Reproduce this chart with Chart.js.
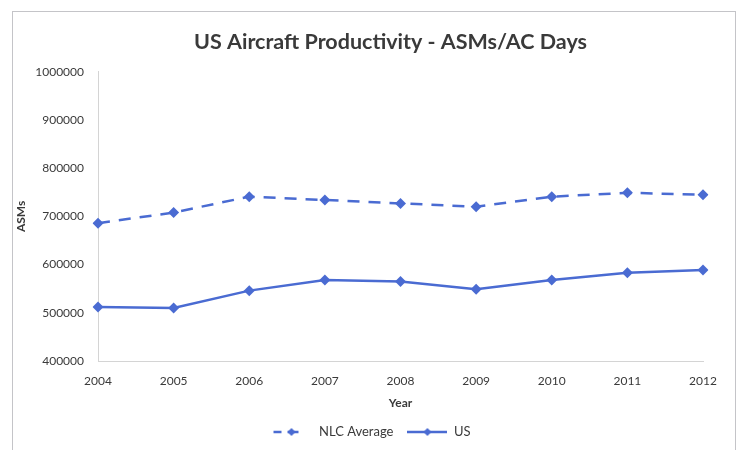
<!DOCTYPE html>
<html>
<head>
<meta charset="utf-8">
<script src="https://cdn.jsdelivr.net/npm/chart.js@4"></script>
<style>
  body { margin: 0; background: #fff; }
  canvas { display: block; }
</style>
</head>
<body>
<canvas id="grafico" width="743" height="450"></canvas>
<script>
// anos do eixo x
var anos = ['2004', '2005', '2006', '2007', '2008', '2009', '2010', '2011', '2012']

// valores (ASMs por dia de aeronave)
var nlcMedia = [686000, 708000, 741000, 734000, 727000, 720000, 741000, 749000, 745000]
var us = [512000, 510000, 546000, 568000, 565000, 549000, 568000, 583000, 589000]

var azul = '#4a6bd2'
var cinzaTexto = '#3a3a3a'

// desenha o simbolo da legenda (linha + losango)
function simboloLegenda(tracejado) {
    var c = document.createElement('canvas')
    c.width = 40
    c.height = 12
    var ctx = c.getContext('2d')
    ctx.strokeStyle = azul
    ctx.fillStyle = azul
    ctx.lineWidth = 2.5
    ctx.beginPath()
    if (tracejado) {
        ctx.moveTo(1, 6); ctx.lineTo(9, 6)
        ctx.moveTo(15, 6); ctx.lineTo(26, 6)
    } else {
        ctx.moveTo(0, 6); ctx.lineTo(40, 6)
    }
    ctx.stroke()
    var cx = tracejado ? 19 : 20
    ctx.beginPath()
    ctx.moveTo(cx, 2); ctx.lineTo(cx + 4, 6); ctx.lineTo(cx, 10); ctx.lineTo(cx - 4, 6)
    ctx.closePath()
    ctx.fill()
    return c
}

var simbolos = [simboloLegenda(true), simboloLegenda(false)]

// moldura cinza em volta do grafico
var moldura = {
    id: 'moldura',
    afterLayout: function (chart) {
        // titulo um pouco a esquerda do centro da area do grafico
        if (chart.titleBlock) chart.titleBlock.left -= 20
        // legenda centrada na largura toda
        if (chart.legend) {
            chart.legend.left += 30
            chart.legend.adjustHitBoxes()
        }
    },
    beforeDraw: function (chart) {
        var ctx = chart.ctx
        ctx.save()
        ctx.fillStyle = '#fff'
        ctx.fillRect(0, 0, chart.width, chart.height)
        ctx.strokeStyle = '#c4c4c8'
        ctx.lineWidth = 1
        ctx.strokeRect(12.5, 11.5, 723, 460)
        ctx.restore()
    }
}

var config = {
    type: 'line',
    data: {
        labels: anos,
        datasets: [
            {
                label: 'NLC Average',
                data: nlcMedia,
                borderColor: azul,
                backgroundColor: azul,
                borderWidth: 2.5,
                borderDash: [12, 9],
                pointStyle: 'rectRot',
                pointRadius: 5.5,
                pointBorderWidth: 0,
                tension: 0
            },
            {
                label: 'US',
                data: us,
                borderColor: azul,
                backgroundColor: azul,
                borderWidth: 2.5,
                pointStyle: 'rectRot',
                pointRadius: 5.5,
                pointBorderWidth: 0,
                tension: 0
            }
        ]
    },
    options: {
        responsive: false,
        animation: false,
        devicePixelRatio: 1,
        layout: { padding: { left: 10, right: 40, top: 0, bottom: 1.5 } },
        plugins: {
            title: {
                display: true,
                fullSize: false,
                text: 'US Aircraft Productivity - ASMs/AC Days',
                color: cinzaTexto,
                font: { family: 'Lato', size: 21.5, weight: 'bold' },
                padding: { top: 29, bottom: 17 }
            },
            legend: {
                position: 'bottom',
                labels: {
                    color: cinzaTexto,
                    font: { family: 'Lato', size: 13 },
                    usePointStyle: true,
                    pointStyleWidth: 40,
                    padding: 14,
                    generateLabels: function (chart) {
                        return chart.data.datasets.map(function (ds, i) {
                            return {
                                text: ds.label,
                                pointStyle: simbolos[i],
                                fontColor: cinzaTexto,
                                datasetIndex: i,
                                hidden: false,
                                lineWidth: 0
                            }
                        })
                    }
                }
            },
            tooltip: { enabled: false }
        },
        scales: {
            x: {
                grid: { display: false },
                border: { display: true, color: '#d4d4d4', width: 1 },
                ticks: {
                    color: cinzaTexto,
                    font: { family: 'Lato', size: 12 },
                    padding: 5,
                    maxRotation: 0
                },
                title: {
                    display: true,
                    text: 'Year',
                    color: cinzaTexto,
                    font: { family: 'Lato', size: 12, weight: 'bold' },
                    padding: { top: 0, bottom: 1.3 }
                },
                afterFit: function (escala) { escala.height = 50.5 }
            },
            y: {
                min: 400000,
                max: 1000000,
                grid: { display: false },
                border: { display: true, color: '#d4d4d4', width: 1 },
                ticks: {
                    stepSize: 100000,
                    color: cinzaTexto,
                    font: { family: 'Lato', size: 12 },
                    padding: 6,
                    callback: function (v) { return String(v) }
                },
                title: {
                    display: true,
                    text: 'ASMs',
                    color: cinzaTexto,
                    font: { family: 'Lato', size: 12, weight: 'bold' },
                    padding: { top: 4, bottom: 0 }
                },
                afterFit: function (escala) { escala.width = 88 }
            }
        }
    },
    plugins: [moldura]
}

var meuGrafico = new Chart(document.getElementById('grafico'), config)
</script>
</body>
</html>
